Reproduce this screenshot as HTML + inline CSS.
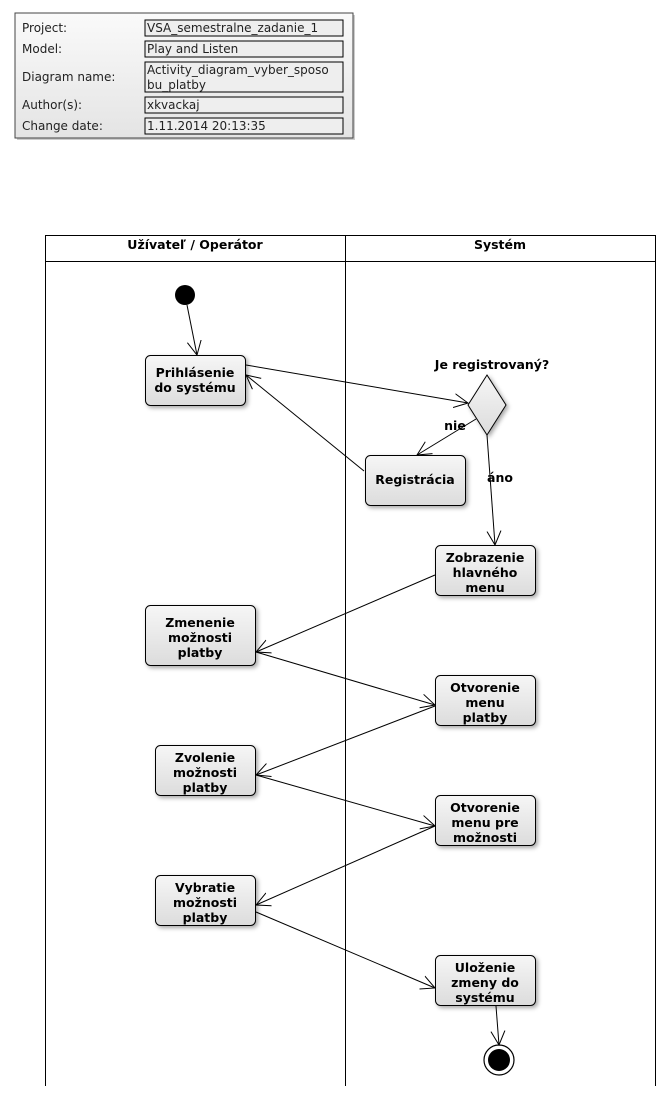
<!DOCTYPE html>
<html><head><meta charset="utf-8"><style>
html,body{margin:0;padding:0;background:#fff;}
svg{display:block;}
text{font-family:"DejaVu Sans","Liberation Sans",sans-serif;}
.b{font-weight:bold;font-size:12.5px;text-anchor:middle;fill:#000;}
.i{font-size:12px;fill:#222;}
</style></head><body>
<svg width="665" height="1095" viewBox="0 0 665 1095" xmlns="http://www.w3.org/2000/svg">
<defs>
<linearGradient id="g" x1="0" y1="0" x2="0" y2="1"><stop offset="0" stop-color="#f6f6f6"/><stop offset="1" stop-color="#dcdcdc"/></linearGradient>
<linearGradient id="gi" x1="0" y1="0" x2="0" y2="1"><stop offset="0" stop-color="#fafafa"/><stop offset="1" stop-color="#e4e4e4"/></linearGradient>
<marker id="a" markerWidth="16" markerHeight="16" refX="14" refY="8" orient="auto" markerUnits="userSpaceOnUse"><path d="M0,1 L14,8 L0,15" fill="none" stroke="#000" stroke-width="1"/></marker>
</defs>
<rect x="17" y="15" width="338" height="125" fill="#ccc"/>
<rect x="15" y="13" width="338" height="125" fill="url(#gi)" stroke="#444"/>
<g class="i">
<text x="22" y="32">Project:</text>
<text x="22" y="53">Model:</text>
<text x="22" y="81">Diagram name:</text>
<text x="22" y="109">Author(s):</text>
<text x="22" y="130">Change date:</text>
</g>
<g fill="#eee" stroke="#000">
<rect x="145" y="20" width="198" height="16"/>
<rect x="145" y="41" width="198" height="16"/>
<rect x="145" y="62" width="198" height="30"/>
<rect x="145" y="97" width="198" height="16"/>
<rect x="145" y="118" width="198" height="16"/>
</g>
<g class="i" fill="#000">
<text x="147" y="32">VSA_semestralne_zadanie_1</text>
<text x="147" y="53">Play and Listen</text>
<text x="147" y="74">Activity_diagram_vyber_sposo</text>
<text x="147" y="89">bu_platby</text>
<text x="147" y="109">xkvackaj</text>
<text x="147" y="130">1.11.2014 20:13:35</text>
</g>
<g stroke="#000" fill="none">
<path d="M45.5,1086 V235.5 H655.5 V1086"/>
<path d="M45,261.5 H655"/>
<path d="M345.5,235 V1086"/>
</g>
<text class="b" x="195" y="249">Užívateľ / Operátor</text>
<text class="b" x="500" y="249">Systém</text>
<g fill="url(#g)" stroke="#000" style="filter:drop-shadow(2px 2px 2px rgba(0,0,0,.35))">
<rect x="145.5" y="355.5" width="100" height="50" rx="5"/>
<rect x="365.5" y="455.5" width="100" height="50" rx="5"/>
<rect x="435.5" y="545.5" width="100" height="50" rx="5"/>
<rect x="145.5" y="605.5" width="110" height="60" rx="5"/>
<rect x="435.5" y="675.5" width="100" height="50" rx="5"/>
<rect x="155.5" y="745.5" width="100" height="50" rx="5"/>
<rect x="435.5" y="795.5" width="100" height="50" rx="5"/>
<rect x="155.5" y="875.5" width="100" height="50" rx="5"/>
<rect x="435.5" y="955.5" width="100" height="50" rx="5"/>
<path d="M487,375 L506,405 L487,435 L468,405 Z"/>
</g>
<circle cx="185" cy="295" r="10" fill="#000"/>
<circle cx="499" cy="1060" r="15" fill="#fff" stroke="#000" stroke-width="1.2"/>
<circle cx="499" cy="1060" r="11" fill="#000"/>
<g class="b">
<text x="195" y="377">Prihlásenie</text><text x="195" y="392">do systému</text>
<text x="415" y="484">Registrácia</text>
<text x="485" y="562">Zobrazenie</text><text x="485" y="577">hlavného</text><text x="485" y="592">menu</text>
<text x="200" y="627">Zmenenie</text><text x="200" y="642">možnosti</text><text x="200" y="657">platby</text>
<text x="485" y="692">Otvorenie</text><text x="485" y="707">menu</text><text x="485" y="722">platby</text>
<text x="205" y="762">Zvolenie</text><text x="205" y="777">možnosti</text><text x="205" y="792">platby</text>
<text x="485" y="812">Otvorenie</text><text x="485" y="827">menu pre</text><text x="485" y="842">možnosti</text>
<text x="205" y="892">Vybratie</text><text x="205" y="907">možnosti</text><text x="205" y="922">platby</text>
<text x="485" y="972">Uloženie</text><text x="485" y="987">zmeny do</text><text x="485" y="1002">systému</text>
<text x="492" y="369">Je registrovaný?</text>
<text x="455" y="430">nie</text>
<text x="500" y="482">áno</text>
</g>
<g stroke="#000" fill="none" marker-end="url(#a)">
<line x1="187" y1="305" x2="197" y2="355"/>
<line x1="246" y1="365" x2="468" y2="403"/>
<line x1="476" y1="419" x2="417" y2="455"/>
<line x1="364" y1="471" x2="246" y2="375"/>
<line x1="487" y1="435" x2="495" y2="545"/>
<line x1="435" y1="575" x2="256" y2="652"/>
<line x1="256" y1="652" x2="435" y2="705"/>
<line x1="435" y1="706" x2="256" y2="775"/>
<line x1="256" y1="775" x2="435" y2="826"/>
<line x1="435" y1="826" x2="256" y2="905"/>
<line x1="256" y1="912" x2="435" y2="988"/>
<line x1="496" y1="1006" x2="499" y2="1045"/>
</g>
</svg>
</body></html>
